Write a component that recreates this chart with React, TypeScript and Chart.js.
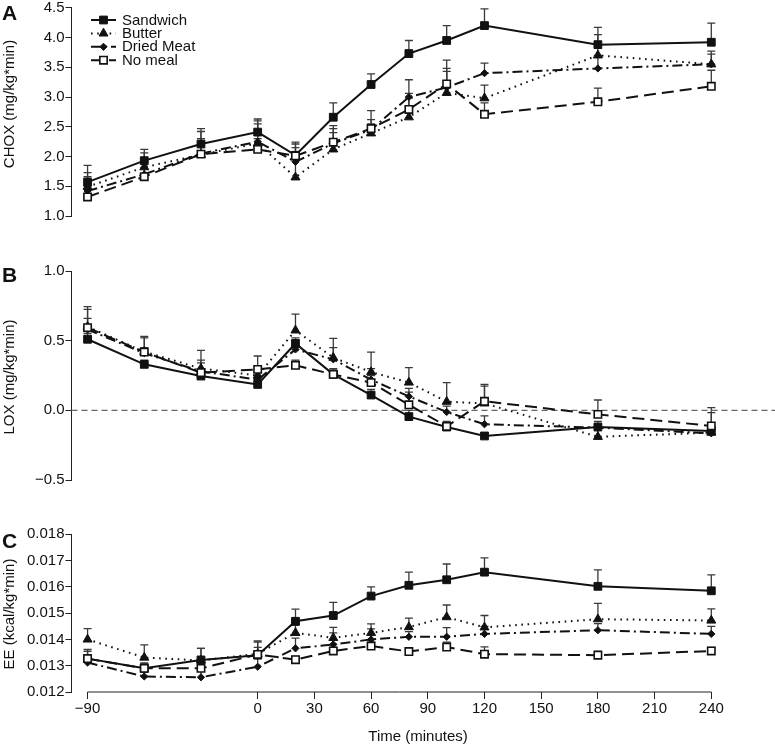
import React, { useEffect, useRef } from "react";
import { Chart, registerables } from "chart.js";

Chart.register(...registerables);

// ---------- data ----------
const TIMES = [-90, -60, -30, 0, 20, 40, 60, 80, 100, 120, 180, 240];
const X_TICKS = [-90, 0, 30, 60, 90, 120, 150, 180, 210, 240];
const X_TICK_LABELS = ["−90", "0", "30", "60", "90", "120", "150", "180", "210", "240"];

const SERIES_NAMES = ["Sandwich", "Butter", "Dried Meat", "No meal"];

// Panel A – CHOX (mg/kg*min)
const CHOX_SANDWICH = [1.57, 1.93, 2.21, 2.41, 2.02, 2.66, 3.21, 3.73, 3.95, 4.2, 3.88, 3.92];
const CHOX_BUTTER = [1.49, 1.82, 2.03, 2.22, 1.65, 2.12, 2.39, 2.66, 3.07, 2.98, 3.7, 3.55];
const CHOX_DRIED_MEAT = [1.42, 1.7, 2.05, 2.25, 1.91, 2.22, 2.45, 3.0, 3.16, 3.4, 3.48, 3.55];
const CHOX_NO_MEAL = [1.32, 1.66, 2.04, 2.12, 2.01, 2.24, 2.47, 2.79, 3.22, 2.71, 2.92, 3.18];
const CHOX_SANDWICH_ERR = [1.85, 2.12, 2.47, 2.63, 2.24, 2.9, 3.39, 3.95, 4.2, 4.48, 4.17, 4.24];
const CHOX_BUTTER_ERR = [1.73, 2.06, 2.42, 2.6, 1.95, 2.4, 2.55, 2.98, 3.43, 3.2, 4.05, 3.77];
const CHOX_DRIED_MEAT_ERR = [1.66, 1.9, 2.3, 2.55, 2.21, 2.52, 2.62, 3.29, 3.48, 3.57, 3.7, 3.72];
const CHOX_NO_MEAL_ERR = [1.5, 1.8, 2.2, 2.3, 2.15, 2.47, 2.77, 3.06, 3.62, 2.9, 3.15, 3.45];
const CHOX_TICKS = [1.0, 1.5, 2.0, 2.5, 3.0, 3.5, 4.0, 4.5];
const CHOX_TICK_LABELS = ["1.0", "1.5", "2.0", "2.5", "3.0", "3.5", "4.0", "4.5"];

// Panel B – LOX (mg/kg*min)
const LOX_SANDWICH = [0.51, 0.33, 0.246, 0.186, 0.48, 0.258, 0.11, -0.045, -0.12, -0.184, -0.12, -0.148];
const LOX_BUTTER = [0.6, 0.42, 0.3, 0.25, 0.574, 0.378, 0.275, 0.2, 0.062, 0.05, -0.19, -0.16];
const LOX_DRIED_MEAT = [0.58, 0.41, 0.28, 0.22, 0.437, 0.366, 0.22, 0.1, -0.012, -0.1, -0.124, -0.165];
const LOX_NO_MEAL = [0.593, 0.418, 0.27, 0.294, 0.323, 0.258, 0.199, 0.04, -0.115, 0.065, -0.029, -0.112];
const LOX_SANDWICH_ERR = [0.55, 0.36, 0.27, 0.21, 0.52, 0.29, 0.15, 0.0, -0.09, -0.16, -0.1, -0.12];
const LOX_BUTTER_ERR = [0.724, 0.52, 0.43, 0.3, 0.69, 0.45, 0.418, 0.306, 0.199, 0.174, -0.12, -0.12];
const LOX_DRIED_MEAT_ERR = [0.66, 0.45, 0.36, 0.28, 0.5, 0.516, 0.3, 0.158, 0.03, -0.04, -0.08, -0.017];
const LOX_NO_MEAL_ERR = [0.744, 0.53, 0.34, 0.39, 0.36, 0.3, 0.25, 0.131, -0.08, 0.186, 0.074, 0.019];
const LOX_TICKS = [-0.5, 0.0, 0.5, 1.0];
const LOX_TICK_LABELS = ["−0.5", "0.0", "0.5", "1.0"];

// Panel C – EE (kcal/kg*min)
const EE_SANDWICH = [0.01327, 0.0129, 0.01322, 0.0134, 0.01469, 0.01491, 0.01565, 0.01606, 0.01627, 0.01656, 0.01602, 0.01585];
const EE_BUTTER = [0.014, 0.01331, 0.0132, 0.01345, 0.01425, 0.01406, 0.01425, 0.01447, 0.01485, 0.01446, 0.01477, 0.01472];
const EE_DRIED_MEAT = [0.01312, 0.01259, 0.01256, 0.01296, 0.01366, 0.01381, 0.014, 0.0141, 0.0141, 0.01421, 0.01435, 0.01421];
const EE_NO_MEAL = [0.01327, 0.0129, 0.0129, 0.01343, 0.01323, 0.01356, 0.01375, 0.01354, 0.01371, 0.01344, 0.0134, 0.01356];
const EE_SANDWICH_ERR = [0.01362, 0.0131, 0.01366, 0.01394, 0.01515, 0.01541, 0.016, 0.01656, 0.01687, 0.0171, 0.01665, 0.01646];
const EE_BUTTER_ERR = [0.01441, 0.01379, 0.01366, 0.0139, 0.01455, 0.01446, 0.01459, 0.01481, 0.01531, 0.01491, 0.01537, 0.01516];
const EE_DRIED_MEAT_ERR = [0.0134, 0.0128, 0.0128, 0.0133, 0.01405, 0.01425, 0.0144, 0.0143, 0.01445, 0.0145, 0.0146, 0.0145];
const EE_NO_MEAL_ERR = [0.01355, 0.0131, 0.0132, 0.0137, 0.01335, 0.0137, 0.0139, 0.0136, 0.0139, 0.01372, 0.01355, 0.0137];
const EE_TICKS = [0.012, 0.013, 0.014, 0.015, 0.016, 0.017, 0.018];
const EE_TICK_LABELS = ["0.012", "0.013", "0.014", "0.015", "0.016", "0.017", "0.018"];

// ---------- styles ----------
const FONT = "'Liberation Sans', Arial, Helvetica, sans-serif";
const INK = "#111";
const W = 775;
const PLOT_LEFT = 71.5;
const PLOT_RIGHT = 711.3;
const X_MIN = -98.5;
const X_MAX = 240;

type StyleDef = {
  dash: number[];
  pointStyle: string;
  radius: number;
  fill: string;
  pointBorder: number;
};
const SERIES_STYLES: StyleDef[] = [
  { dash: [], pointStyle: "rect", radius: 5.5, fill: INK, pointBorder: 1 },
  { dash: [1.6, 4.6], pointStyle: "triangle", radius: 5.2, fill: INK, pointBorder: 1 },
  { dash: [10, 4, 2, 4], pointStyle: "rectRot", radius: 3.6, fill: INK, pointBorder: 1 },
  { dash: [12, 6], pointStyle: "rect", radius: 5.2, fill: "#fff", pointBorder: 1.6 },
];

type Panel = {
  key: string;
  top: number;
  height: number;
  padTop: number;
  padBottom: number;
  yMin: number;
  yMax: number;
  yTicks: number[];
  yLabels: string[];
  title: string;
  titleY: number;
  letterBaseline: number;
  values: number[][];
  errs: number[][];
  showX: boolean;
  zeroLine: boolean;
  legend: boolean;
};

const PANELS: Panel[] = [
  {
    key: "A", top: 0, height: 240, padTop: 7.3, padBottom: 24,
    yMin: 1, yMax: 4.5, yTicks: CHOX_TICKS, yLabels: CHOX_TICK_LABELS,
    title: "CHOX (mg/kg*min)", titleY: 104, letterBaseline: 20,
    values: [CHOX_SANDWICH, CHOX_BUTTER, CHOX_DRIED_MEAT, CHOX_NO_MEAL],
    errs: [CHOX_SANDWICH_ERR, CHOX_BUTTER_ERR, CHOX_DRIED_MEAT_ERR, CHOX_NO_MEAL_ERR],
    showX: false, zeroLine: false, legend: true,
  },
  {
    key: "B", top: 250, height: 240, padTop: 21, padBottom: 10,
    yMin: -0.5, yMax: 1.0, yTicks: LOX_TICKS, yLabels: LOX_TICK_LABELS,
    title: "LOX (mg/kg*min)", titleY: 377, letterBaseline: 281.5,
    values: [LOX_SANDWICH, LOX_BUTTER, LOX_DRIED_MEAT, LOX_NO_MEAL],
    errs: [LOX_SANDWICH_ERR, LOX_BUTTER_ERR, LOX_DRIED_MEAT_ERR, LOX_NO_MEAL_ERR],
    showX: false, zeroLine: true, legend: false,
  },
  {
    key: "C", top: 500, height: 247, padTop: 34.3, padBottom: 0,
    yMin: 0.012, yMax: 0.018, yTicks: EE_TICKS, yLabels: EE_TICK_LABELS,
    title: "EE (kcal/kg*min)", titleY: 614, letterBaseline: 548,
    values: [EE_SANDWICH, EE_BUTTER, EE_DRIED_MEAT, EE_NO_MEAL],
    errs: [EE_SANDWICH_ERR, EE_BUTTER_ERR, EE_DRIED_MEAT_ERR, EE_NO_MEAL_ERR],
    showX: true, zeroLine: false, legend: false,
  },
];

// ---------- drawing helpers ----------
function drawMarker(ctx: CanvasRenderingContext2D, s: StyleDef, x: number, y: number) {
  ctx.save();
  ctx.setLineDash([]);
  ctx.fillStyle = s.fill;
  ctx.strokeStyle = INK;
  ctx.lineWidth = s.pointBorder;
  ctx.beginPath();
  const r = s.radius;
  if (s.pointStyle === "rect") {
    const h = r * Math.SQRT1_2;
    ctx.rect(x - h, y - h, 2 * h, 2 * h);
  } else if (s.pointStyle === "triangle") {
    ctx.moveTo(x, y - r);
    ctx.lineTo(x + r * 0.866, y + r * 0.5);
    ctx.lineTo(x - r * 0.866, y + r * 0.5);
    ctx.closePath();
  } else {
    ctx.moveTo(x, y - r);
    ctx.lineTo(x + r, y);
    ctx.lineTo(x, y + r);
    ctx.lineTo(x - r, y);
    ctx.closePath();
  }
  ctx.fill();
  ctx.stroke();
  ctx.restore();
}

const errorBarPlugin = {
  id: "errorBars",
  beforeDatasetsDraw(chart: any) {
    const ctx: CanvasRenderingContext2D = chart.ctx;
    const xs = chart.scales.x;
    const ys = chart.scales.y;
    ctx.save();
    ctx.strokeStyle = "#3a3a3a";
    ctx.lineWidth = 1.3;
    ctx.setLineDash([]);
    chart.data.datasets.forEach((ds: any) => {
      const err: number[] = ds.errTop;
      ds.data.forEach((pt: any, i: number) => {
        const x = xs.getPixelForValue(pt.x);
        const y0 = ys.getPixelForValue(pt.y);
        const y1 = ys.getPixelForValue(err[i]);
        ctx.beginPath();
        ctx.moveTo(x, y0);
        ctx.lineTo(x, y1);
        ctx.moveTo(x - 4, y1);
        ctx.lineTo(x + 4, y1);
        ctx.stroke();
      });
    });
    ctx.restore();
  },
};

function decorPlugin(p: Panel) {
  return {
    id: "decor" + p.key,
    beforeDatasetsDraw(chart: any) {
      const ctx: CanvasRenderingContext2D = chart.ctx;
      const xs = chart.scales.x;
      const ys = chart.scales.y;
      if (p.zeroLine) {
        const y = ys.getPixelForValue(0);
        ctx.save();
        ctx.strokeStyle = "#666";
        ctx.lineWidth = 1.3;
        ctx.setLineDash([6, 4]);
        ctx.beginPath();
        ctx.moveTo(chart.chartArea.left, y);
        ctx.lineTo(chart.width, y);
        ctx.stroke();
        ctx.restore();
      }
      if (p.showX) {
        const y = chart.chartArea.bottom;
        ctx.save();
        ctx.strokeStyle = "#222";
        ctx.lineWidth = 1;
        ctx.beginPath();
        ctx.moveTo(xs.getPixelForValue(X_TICKS[0]), y);
        ctx.lineTo(xs.getPixelForValue(X_TICKS[X_TICKS.length - 1]), y);
        ctx.stroke();
        ctx.restore();
      }
    },
    afterDraw(chart: any) {
      const ctx: CanvasRenderingContext2D = chart.ctx;
      ctx.save();
      ctx.fillStyle = INK;
      ctx.font = `bold 21px ${FONT}`;
      ctx.textAlign = "left";
      ctx.textBaseline = "alphabetic";
      ctx.fillText(p.key, 2, p.letterBaseline - p.top);

      ctx.font = `15px ${FONT}`;
      ctx.save();
      ctx.translate(10, p.titleY - p.top);
      ctx.rotate(-Math.PI / 2);
      ctx.textAlign = "center";
      ctx.textBaseline = "middle";
      ctx.fillText(p.title, 0, 0);
      ctx.restore();

      if (p.showX) {
        ctx.textAlign = "center";
        ctx.textBaseline = "middle";
        ctx.fillText("Time (minutes)", 418, 737 - p.top);
      }

      if (p.legend) {
        chart.data.datasets.forEach((ds: any, i: number) => {
          const s = SERIES_STYLES[i];
          const y = 20 + i * 13.4;
          ctx.save();
          ctx.strokeStyle = INK;
          ctx.lineWidth = 2;
          ctx.setLineDash(s.dash);
          ctx.beginPath();
          ctx.moveTo(91, y);
          ctx.lineTo(116, y);
          ctx.stroke();
          ctx.restore();
          drawMarker(ctx, s, 103.5, y);
          ctx.fillStyle = INK;
          ctx.font = `15px ${FONT}`;
          ctx.textAlign = "left";
          ctx.textBaseline = "middle";
          ctx.fillText(ds.label, 122, y + 0.5);
        });
      }
      ctx.restore();
    },
  };
}

function buildConfig(p: Panel): any {
  const datasets = SERIES_NAMES.map((name, i) => {
    const s = SERIES_STYLES[i];
    return {
      type: "line",
      label: name,
      data: TIMES.map((t, j) => ({ x: t, y: p.values[i][j] })),
      errTop: p.errs[i],
      borderColor: INK,
      borderWidth: 2,
      borderDash: s.dash,
      tension: 0,
      fill: false,
      clip: false,
      pointStyle: s.pointStyle,
      pointRadius: s.radius,
      pointHoverRadius: s.radius,
      pointBackgroundColor: s.fill,
      pointBorderColor: INK,
      pointBorderWidth: s.pointBorder,
      order: SERIES_NAMES.length - i,
    };
  });
  return {
    type: "line",
    data: { datasets },
    plugins: [errorBarPlugin, decorPlugin(p)],
    options: {
      animation: false,
      responsive: false,
      maintainAspectRatio: false,
      events: [],
      layout: { padding: { top: p.padTop, bottom: p.padBottom, left: 0, right: W - PLOT_RIGHT } },
      plugins: { legend: { display: false }, tooltip: { enabled: false }, title: { display: false } },
      scales: {
        x: {
          type: "linear",
          min: X_MIN,
          max: X_MAX,
          display: p.showX,
          afterBuildTicks: (scale: any) => {
            scale.ticks = X_TICKS.map((v) => ({ value: v }));
          },
          afterFit: (scale: any) => {
            scale.height = p.showX ? 55 : 0;
          },
          border: { display: false },
          grid: { drawOnChartArea: false, drawTicks: true, tickLength: 7, tickColor: "#222", tickWidth: 1 },
          ticks: {
            autoSkip: false,
            maxRotation: 0,
            padding: 1,
            color: INK,
            font: { family: FONT, size: 15 },
            callback: (_v: any, i: number) => X_TICK_LABELS[i],
          },
        },
        y: {
          type: "linear",
          min: p.yMin,
          max: p.yMax,
          afterBuildTicks: (scale: any) => {
            scale.ticks = p.yTicks.map((v) => ({ value: v }));
          },
          afterFit: (scale: any) => {
            scale.width = PLOT_LEFT;
          },
          border: { display: true, color: "#222", width: 1 },
          grid: { drawOnChartArea: false, drawTicks: true, tickLength: 6, tickColor: "#222", tickWidth: 1 },
          ticks: {
            autoSkip: false,
            padding: 1,
            color: INK,
            font: { family: FONT, size: 15, lineHeight: 0.9 },
            callback: (_v: any, i: number) => p.yLabels[i],
          },
        },
      },
    },
  };
}

function PanelChart({ p }: { p: Panel }) {
  const ref = useRef<HTMLCanvasElement>(null);
  useEffect(() => {
    if (!ref.current) return;
    const chart = new Chart(ref.current, buildConfig(p));
    return () => chart.destroy();
  }, [p]);
  return (
    <canvas
      ref={ref}
      width={W}
      height={p.height}
      style={{ position: "absolute", left: 0, top: p.top, width: W, height: p.height, display: "block" }}
    />
  );
}

export default function App() {
  return (
    <div style={{ position: "absolute", left: 0, top: 0, width: W, height: 747, background: "#fff" }}>
      {PANELS.map((p) => (
        <PanelChart key={p.key} p={p} />
      ))}
    </div>
  );
}
